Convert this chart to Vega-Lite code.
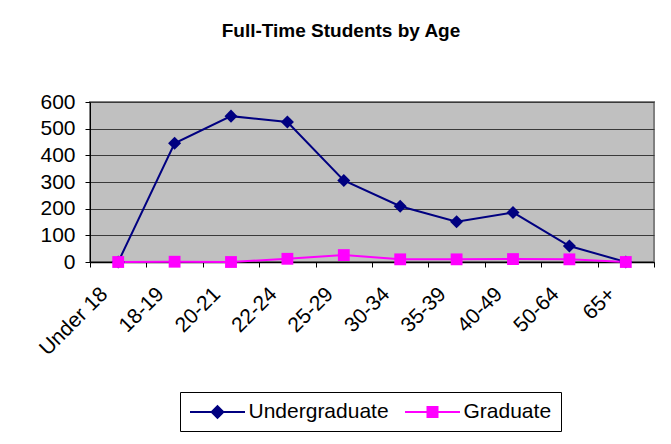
{
  "$schema": "https://vega.github.io/schema/vega-lite/v6.json",
  "autosize": "none",
  "width": 564,
  "height": 160,
  "padding": {"left": 90, "top": 102, "right": 17, "bottom": 182},
  "background": "white",
  "title": {
    "text": "Full-Time Students by Age",
    "font": "Liberation Sans",
    "fontSize": 19,
    "fontWeight": "bold",
    "color": "black",
    "anchor": "middle",
    "dx": -31,
    "offset": 50
  },
  "data": {
    "values": [
      {"age": "Under 18", "series": "Undergraduate", "students": 0},
      {"age": "18-19", "series": "Undergraduate", "students": 445},
      {"age": "20-21", "series": "Undergraduate", "students": 547},
      {"age": "22-24", "series": "Undergraduate", "students": 525},
      {"age": "25-29", "series": "Undergraduate", "students": 306},
      {"age": "30-34", "series": "Undergraduate", "students": 209},
      {"age": "35-39", "series": "Undergraduate", "students": 151},
      {"age": "40-49", "series": "Undergraduate", "students": 186},
      {"age": "50-64", "series": "Undergraduate", "students": 60},
      {"age": "65+", "series": "Undergraduate", "students": 0},
      {"age": "Under 18", "series": "Graduate", "students": 0},
      {"age": "18-19", "series": "Graduate", "students": 1},
      {"age": "20-21", "series": "Graduate", "students": 0},
      {"age": "22-24", "series": "Graduate", "students": 12},
      {"age": "25-29", "series": "Graduate", "students": 26},
      {"age": "30-34", "series": "Graduate", "students": 10},
      {"age": "35-39", "series": "Graduate", "students": 10},
      {"age": "40-49", "series": "Graduate", "students": 11},
      {"age": "50-64", "series": "Graduate", "students": 10},
      {"age": "65+", "series": "Graduate", "students": 0}
    ]
  },
  "encoding": {
    "x": {
      "field": "age",
      "type": "nominal",
      "sort": null,
      "title": null,
      "axis": {
        "labelAngle": -45,
        "labelAlign": "right",
        "labelBaseline": "top",
        "labelOffset": -22,
        "labelPadding": 16,
        "labelFont": "Liberation Sans",
        "labelFontSize": 21,
        "labelColor": "black",
        "tickBand": "extent",
        "tickSize": 5,
        "tickColor": "black",
        "domainColor": "black",
        "domainWidth": 1.5,
        "grid": false
      }
    },
    "y": {
      "field": "students",
      "type": "quantitative",
      "scale": {"domain": [0, 600]},
      "title": null,
      "axis": {
        "values": [0, 100, 200, 300, 400, 500, 600],
        "labelFont": "Liberation Sans",
        "labelFontSize": 21,
        "labelColor": "black",
        "labelPadding": 10,
        "tickSize": 5,
        "tickColor": "black",
        "domainColor": "black",
        "grid": true,
        "gridColor": "#3a3a3a",
        "gridWidth": 1
      }
    },
    "color": {
      "field": "series",
      "type": "nominal",
      "scale": {"domain": ["Undergraduate", "Graduate"], "range": ["#000080", "#FF00FF"]},
      "legend": {
        "title": null,
        "orient": "none",
        "legendX": 90,
        "legendY": 290,
        "direction": "horizontal",
        "padding": 9,
        "strokeColor": "black",
        "fillColor": "white",
        "labelFont": "Liberation Sans",
        "labelFontSize": 21,
        "labelColor": "black",
        "labelOffset": 20,
        "columnPadding": 12,
        "symbolSize": 400,
        "symbolOffset": 17.5,
        "symbolStrokeWidth": 2,
        "symbolType": "M-2.75,0L2.75,0",
        "encode": {
          "symbols": {
            "update": {
              "shape": {"signal": "datum.value === 'Undergraduate' ? 'M-2.75,0L2.75,0M0,-0.58L0.58,0L0,0.58L-0.58,0Z' : 'M-2.75,0L2.75,0M-0.5,-0.5L0.5,-0.5L0.5,0.5L-0.5,0.5Z'"},
              "fill": {"signal": "datum.value === 'Undergraduate' ? '#000080' : '#FF00FF'"},
              "stroke": {"signal": "datum.value === 'Undergraduate' ? '#000080' : '#FF00FF'"},
              "strokeWidth": {"value": 2},
              "opacity": {"value": 1},
              "fillOpacity": {"value": 1},
              "strokeOpacity": {"value": 1}
            }
          }
        }
      }
    }
  },
  "layer": [
    {
      "mark": {"type": "line", "strokeWidth": 2}
    },
    {
      "transform": [{"filter": "datum.series === 'Undergraduate'"}],
      "mark": {"type": "point", "filled": true, "opacity": 1, "shape": "diamond", "size": 170}
    },
    {
      "transform": [{"filter": "datum.series === 'Graduate'"}],
      "mark": {"type": "point", "filled": true, "opacity": 1, "shape": "square", "size": 140}
    }
  ],
  "config": {
    "view": {"fill": "#C0C0C0", "stroke": "#808080", "strokeWidth": 2},
    "axis": {"labelFont": "Liberation Sans"}
  }
}
